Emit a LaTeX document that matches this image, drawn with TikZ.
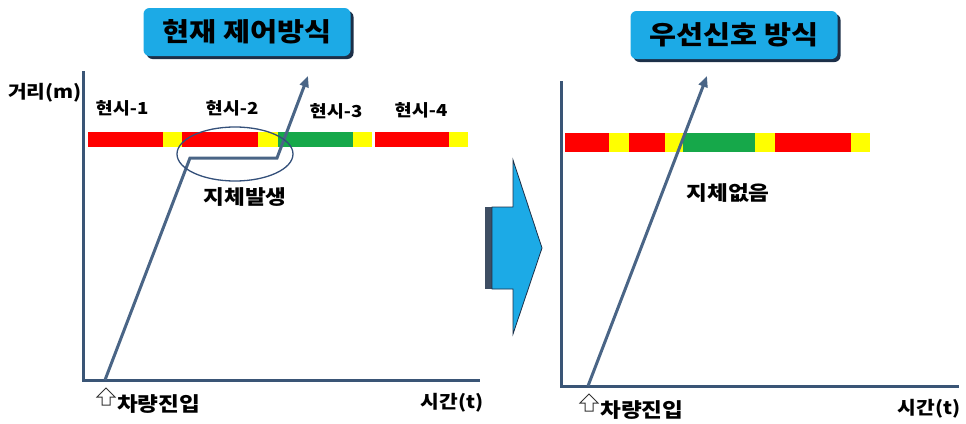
\documentclass[tikz,border=0pt]{standalone}
\usepackage{fontspec}
\newfontfamily\kr{Noto Sans CJK KR}[FakeStretch=1.13]
\usetikzlibrary{arrows.meta,shapes.geometric,shadows}
\definecolor{axisc}{HTML}{3A5576}
\definecolor{trajc}{HTML}{4A6586}
\definecolor{titleblue}{HTML}{1CAAE6}
\definecolor{shadowc}{HTML}{1C2F48}
\definecolor{sigred}{HTML}{FF0000}
\definecolor{sigyel}{HTML}{FFFF00}
\definecolor{siggrn}{HTML}{16A84A}
\definecolor{ellc}{HTML}{34507A}
\begin{document}
\begin{tikzpicture}[x=1pt,y=-1pt,
  ax/.style={line width=3pt, draw=axisc, line cap=rect},
  traj/.style={line width=3pt, draw=trajc, line join=miter, -{Triangle[length=11pt,width=9pt]}},
  titlebox/.style={fill=titleblue, rounded corners=6pt, minimum width=207pt, minimum height=48pt,
     font=\kr\bfseries\fontsize{26}{28}\selectfont, text=black, inner sep=0pt,
     general shadow={fill=shadowc, shadow xshift=3pt, shadow yshift=-3pt}},
  lbl/.style={font=\kr\bfseries\fontsize{16.5}{18}\selectfont, text=black, inner sep=0pt},
  blbl/.style={font=\kr\bfseries\fontsize{20}{22}\selectfont, text=black, inner sep=0pt},
  alab/.style={font=\kr\bfseries\fontsize{18}{20}\selectfont, text=black, inner sep=0pt},
  uparr/.style={draw=black!80, fill=white, line width=1pt, line join=miter}
]
\useasboundingbox (0,0) rectangle (966,423);

% ---------- left panel ----------
\node[titlebox] (t1) at (247,32) {현재 제어방식};

\coordinate (yt1) at (83,72);
\coordinate (o1) at (83,380);
\coordinate (xe1) at (478,380);
\draw[ax] (yt1) -- (o1) -- (xe1);

\node[alab] (ylab1) at (45,93) {거리(m)};
\node[alab] (xlab1) at (452,403) {시간(t)};

% signal bar
\fill[sigred] (88,132) rectangle (163,147);
\fill[sigyel] (163,132) rectangle (182,147);
\fill[sigred] (182,132) rectangle (258,147);
\fill[sigyel] (258,132) rectangle (278,147);
\fill[siggrn] (278,132) rectangle (353,147);
\fill[sigyel] (353,132) rectangle (372,147);
\fill[sigred] (375,132) rectangle (449,147);
\fill[sigyel] (449,132) rectangle (468,147);

\node[lbl] (p1) at (122,108) {현시-1};
\node[lbl] (p2) at (232,108) {현시-2};
\node[lbl] (p3) at (336,111) {현시-3};
\node[lbl] (p4) at (421,110) {현시-4};

% trajectory
\coordinate (s1) at (105,380);
\coordinate (a1) at (190,158);
\coordinate (b1) at (277,158);
\coordinate (e1) at (308,76);
\draw[traj] (s1) -- (a1) -- (b1) -- (e1);

\node[ellipse, draw=ellc, line width=1.3pt, minimum width=116pt, minimum height=54pt, inner sep=0pt] (jam) at (235,154) {};
\node[blbl] (jamlbl) at (245,197) {지체발생};

% entry label
\draw[uparr] (106,388) -- (115,397) -- (110,397) -- (110,405) -- (102,405) -- (102,397) -- (97,397) -- cycle;
\node[blbl, anchor=west] (in1) at (117,404) {차량진입};

% ---------- middle arrow ----------
\fill[shadowc!85] (485,207) rectangle (492,289);
\draw[fill=titleblue, draw=shadowc, line width=0.8pt, line join=miter]
  (492,207) -- (513,207) -- (513,160) -- (542,248) -- (513,334) -- (513,289) -- (492,289) -- cycle;

% ---------- right panel ----------
\node[titlebox] (t2) at (734,35) {우선신호 방식};

\coordinate (yt2) at (561,82);
\coordinate (o2) at (561,386);
\coordinate (xe2) at (957,386);
\draw[ax] (yt2) -- (o2) -- (xe2);

\node[alab] (xlab2) at (929,409) {시간(t)};

\fill[sigred] (565,133) rectangle (609,152);
\fill[sigyel] (609,133) rectangle (629,152);
\fill[sigred] (629,133) rectangle (665,152);
\fill[sigyel] (665,133) rectangle (683,152);
\fill[siggrn] (683,133) rectangle (755,152);
\fill[sigyel] (755,133) rectangle (775,152);
\fill[sigred] (775,133) rectangle (851,152);
\fill[sigyel] (851,133) rectangle (870,152);

\coordinate (s2) at (588,386);
\coordinate (e2) at (707,76);
\draw[traj] (s2) -- (e2);

\node[blbl] (nojam) at (728,193) {지체없음};

\draw[uparr] (589,394) -- (598,403) -- (593,403) -- (593,411) -- (585,411) -- (585,403) -- (580,403) -- cycle;
\node[blbl, anchor=west] (in2) at (600,410) {차량진입};
\end{tikzpicture}
\end{document}
